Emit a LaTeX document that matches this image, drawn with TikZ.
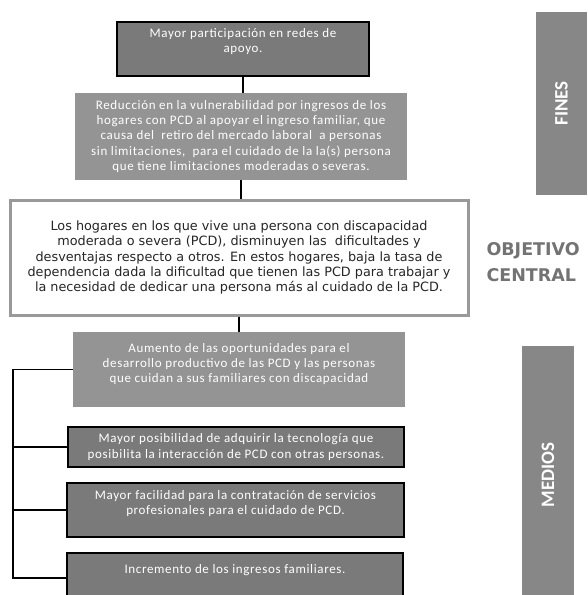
\documentclass[tikz,border=0pt]{standalone}
\usepackage{fontspec}
\setmainfont{Carlito}
\newfontfamily\boxfont[LetterSpace=5]{Carlito}
\newfontfamily\objfont{DejaVu Sans}

\begin{document}
\begin{tikzpicture}[x=1pt,y=-1pt,
  darkbox/.style={draw=black,line width=1.5pt,fill=black!52,text=white,align=center,inner sep=0pt,font=\boxfont\fontsize{13}{15.3}\selectfont},
  lightbox/.style={fill=black!42,text=white,align=center,inner sep=0pt,font=\boxfont\fontsize{13}{15.3}\selectfont},
  sidebox/.style={fill=black!47,text=white,rotate=90,inner sep=0pt,font=\bfseries\fontsize{19}{20}\selectfont},
  link/.style={line width=2pt},
  railline/.style={line width=1.5pt}]
  \useasboundingbox (0,0) rectangle (587,595);
  % fines
  \node[darkbox,minimum width=252,minimum height=54,text depth=17pt] (fin1) at (243,49) {Mayor participación en redes de\\ apoyo.};
  \node[lightbox,minimum width=332,minimum height=87] (fin2) at (241,136.5) {Reducción en la vulnerabilidad por ingresos de los\\ hogares con PCD al apoyar el ingreso familiar, que\\ causa del\ \ retiro del mercado laboral\ \ a personas\\ sin limitaciones,\ \ para el cuidado de la la(s) persona\\ que tiene limitaciones moderadas o severas.};
  % objetivo central
  \node[draw=black!40,line width=3pt,fill=white,minimum width=458,minimum height=115,align=center,text=black!85,font=\objfont\fontsize{12.8}{15.3}\selectfont] (obj) at (239,257.5) {Los hogares en los que vive una persona con discapacidad\\ moderada o severa (PCD), disminuyen las\ \ dificultades y\\ desventajas respecto a otros. En estos hogares, baja la tasa de\\ dependencia dada la dificultad que tienen las PCD para trabajar y\\ la necesidad de dedicar una persona más al cuidado de la PCD.};
  % medios
  \node[lightbox,minimum width=332,minimum height=75,text depth=13pt] (aum) at (239,369.5) {Aumento de las oportunidades para el\\ desarrollo productivo de las PCD y las personas\\ que cuidan a sus familiares con discapacidad};
  \node[darkbox,minimum width=336,minimum height=40] (pos) at (236,447) {Mayor posibilidad de adquirir la tecnología que\\ posibilita la interacción de PCD con otras personas.};
  \node[darkbox,minimum width=337,minimum height=54,text depth=15pt] (fac) at (235.5,510) {Mayor facilidad para la contratación de servicios\\ profesionales para el cuidado de PCD.};
  \node[darkbox,minimum width=336,minimum height=50,text depth=19pt] (inc) at (235,578) {Incremento de los ingresos familiares.};
  % etiquetas laterales
  \node[sidebox,minimum width=183,minimum height=51] (fines) at (561.5,103.5) {FINES};
  \node[anchor=west,align=left,text=black!55,font=\objfont\bfseries\fontsize{17.5}{26}\selectfont] (objlbl) at (483,262) {OBJETIVO\\ CENTRAL};
  \node[sidebox,minimum width=258,minimum height=52] (medios) at (548,475) {MEDIOS};
  % conexiones
  \draw[link] (fin1.south) -- (fin1.south |- fin2.north);
  \draw[link] (fin2.south) -- (fin2.south |- obj.north);
  \draw[link] (obj.south) -- (obj.south |- aum.north);
  \coordinate (rail) at (13,0);
  \draw[railline] (aum.west) -- (aum.west -| rail) -- (inc.west -| rail) -- (inc.west);
  \foreach \b in {pos,fac}
    \draw[railline] (\b.west) -- (\b.west -| rail);
\end{tikzpicture}
\end{document}
